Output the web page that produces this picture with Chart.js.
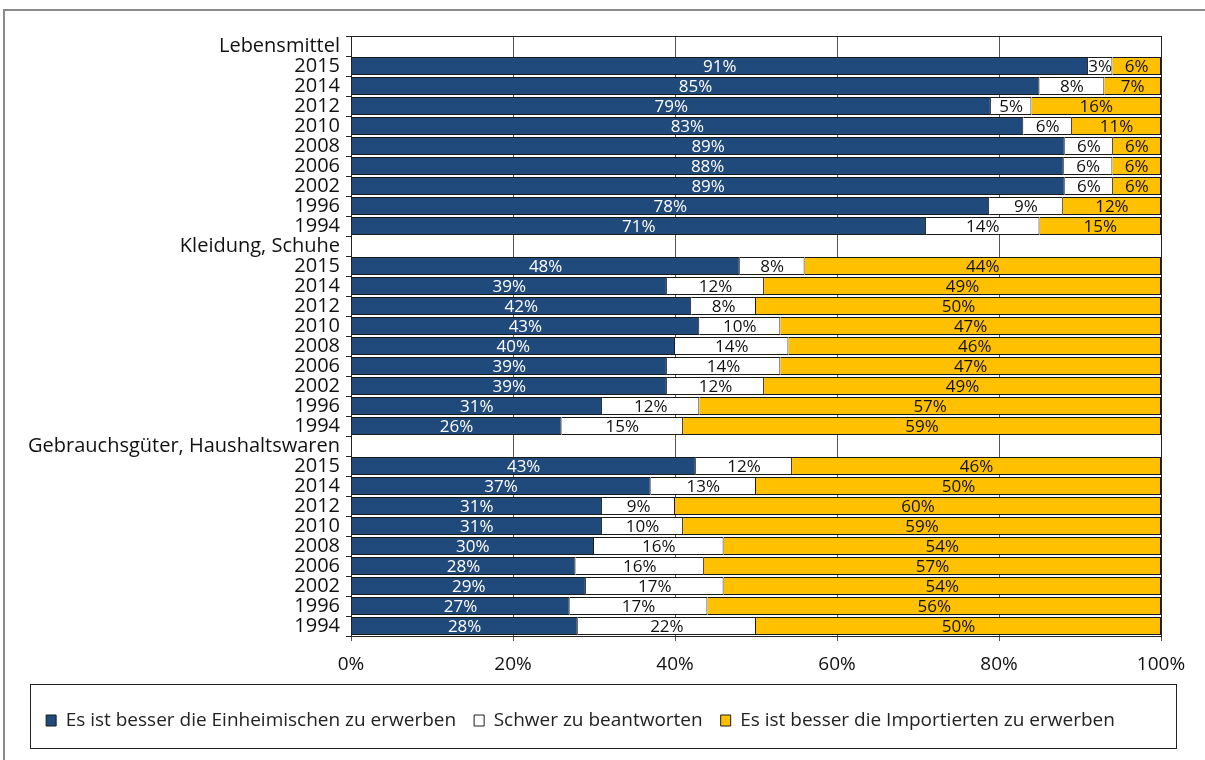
<!DOCTYPE html>
<html>
<head>
<meta charset="utf-8">
<script src="https://cdn.jsdelivr.net/npm/chart.js@4.4.1/dist/chart.umd.min.js"></script>
<style>
  html, body { margin: 0; padding: 0; background: #fff; }
  #wrap { width: 1205px; height: 760px; }
</style>
</head>
<body>
<div id="wrap"><canvas id="myChart" width="1205" height="760"></canvas></div>
<script>
// rows top to bottom, group headers are empty rows
var labels = [
  "Lebensmittel", "2015", "2014", "2012", "2010", "2008", "2006", "2002", "1996", "1994",
  "Kleidung, Schuhe", "2015", "2014", "2012", "2010", "2008", "2006", "2002", "1996", "1994",
  "Gebrauchsgüter, Haushaltswaren", "2015", "2014", "2012", "2010", "2008", "2006", "2002", "1996", "1994"
];
var einheimische = [
  null, 91, 85, 79, 83, 89, 88, 89, 78, 71,
  null, 48, 39, 42, 43, 40, 39, 39, 31, 26,
  null, 43, 37, 31, 31, 30, 28, 29, 27, 28
];
var schwer = [
  null, 3, 8, 5, 6, 6, 6, 6, 9, 14,
  null, 8, 12, 8, 10, 14, 14, 12, 12, 15,
  null, 12, 13, 9, 10, 16, 16, 17, 17, 22
];
var importierte = [
  null, 6, 7, 16, 11, 6, 6, 6, 12, 15,
  null, 44, 49, 50, 47, 46, 47, 49, 57, 59,
  null, 46, 50, 60, 59, 54, 57, 54, 56, 50
];
var xTicks = ["0%", "20%", "40%", "60%", "80%", "100%"];

var raw = [einheimische, schwer, importierte];

// 100% stacked: share of the row total
function share(arr) {
  return arr.map(function (v, i) {
    if (v === null) return null;
    var sum = einheimische[i] + schwer[i] + importierte[i];
    return v / sum * 100;
  });
}

var valueLabels = {
  id: 'valueLabels',
  afterDatasetsDraw: function (chart) {
    var ctx = chart.ctx;
    ctx.save();
    ctx.font = '17px "Open Sans"';
    ctx.textAlign = 'center';
    ctx.textBaseline = 'middle';
    chart.data.datasets.forEach(function (ds, di) {
      var meta = chart.getDatasetMeta(di);
      meta.data.forEach(function (bar, i) {
        var v = raw[di][i];
        if (v === null) return;
        ctx.fillStyle = di === 0 ? '#ffffff' : '#111111';
        ctx.fillText(v + '%', (bar.x + bar.base) / 2, bar.y + 1);
      });
    });
    ctx.restore();
  }
};

var frames = {
  id: 'frames',
  beforeDraw: function (chart) {
    var ctx = chart.ctx;
    ctx.save();
    ctx.strokeStyle = '#8a8a8a';
    ctx.lineWidth = 2;
    ctx.beginPath();
    ctx.moveTo(1205, 10);
    ctx.lineTo(4, 10);
    ctx.lineTo(4, 760);
    ctx.stroke();
    ctx.restore();
  },
  afterDraw: function (chart) {
    var ctx = chart.ctx;
    var a = chart.chartArea;
    var lg = chart.legend;
    ctx.save();
    ctx.strokeStyle = '#222';
    ctx.lineWidth = 1;
    ctx.strokeRect(a.left + 0.5, a.top + 0.5, a.right - a.left, a.bottom - a.top);
    // legend frame, a bit taller than the legend block
    ctx.strokeRect(30.5, lg.top - 8.5, 1146, lg.bottom - lg.top + 17);
    ctx.restore();
  }
};

var ctx = document.getElementById("myChart").getContext('2d');
var myChart = new Chart(ctx, {
  type: 'bar',
  data: {
    labels: labels,
    datasets: [{
      label: 'Es ist besser die Einheimischen zu erwerben',
      data: share(einheimische),
      backgroundColor: '#214a7c',
      borderColor: '#1a1a1a',
      borderWidth: 1
    }, {
      label: 'Schwer zu beantworten',
      data: share(schwer),
      backgroundColor: '#ffffff',
      borderColor: '#1a1a1a',
      borderWidth: 1
    }, {
      label: 'Es ist besser die Importierten zu erwerben',
      data: share(importierte),
      backgroundColor: '#ffc000',
      borderColor: '#1a1a1a',
      borderWidth: 1
    }]
  },
  options: {
    indexAxis: 'y',
    responsive: false,
    animation: false,
    layout: { padding: { top: 36, right: 44, bottom: 20, left: 0 } },
    categoryPercentage: 1.0,
    barPercentage: 0.9,
    plugins: {
      legend: {
        position: 'bottom',
        labels: {
          font: { family: '"Open Sans"', size: 19 },
          color: '#222',
          boxWidth: 10,
          boxHeight: 11,
          padding: 18
        }
      },
      tooltip: { enabled: false },
      title: { display: false }
    },
    scales: {
      x: {
        stacked: true,
        min: 0,
        max: 100,
        ticks: {
          stepSize: 20,
          padding: 12,
          color: '#111',
          font: { family: '"Open Sans"', size: 19 },
          callback: function (v, i) { return xTicks[i]; }
        },
        grid: { color: '#555', lineWidth: 1, tickLength: 5 },
        border: { color: '#222' },
        afterFit: function (scale) { scale.height = 57; }
      },
      y: {
        stacked: true,
        ticks: {
          autoSkip: false,
          padding: 6,
          color: '#111',
          font: { family: '"Open Sans"', size: 20 }
        },
        grid: { display: true, drawOnChartArea: false, offset: true, tickLength: 5, color: '#222' },
        border: { color: '#222' },
        afterFit: function (scale) { scale.width = 351; }
      }
    }
  },
  plugins: [frames, valueLabels]
});
</script>
</body>
</html>
